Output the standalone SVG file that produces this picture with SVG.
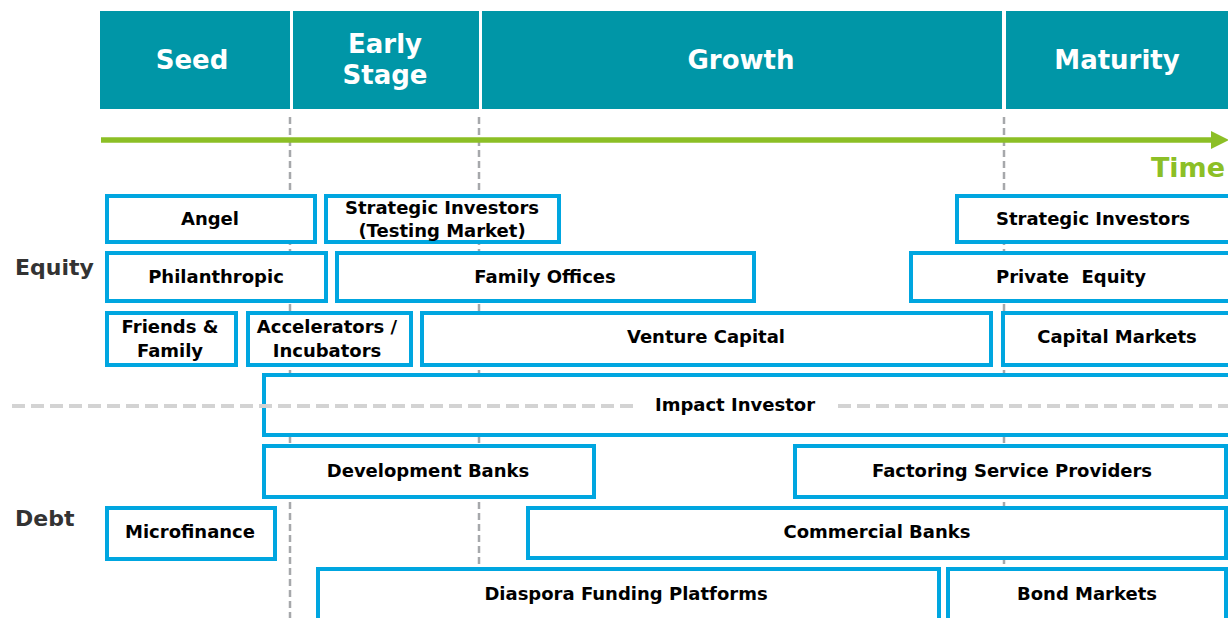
<svg xmlns="http://www.w3.org/2000/svg" width="1228" height="618" viewBox="0 0 1228 618">
<style>
text{font-family:"DejaVu Sans",Verdana,sans-serif;font-weight:bold;text-anchor:middle}
.hdr{fill:#0096a7}
.ht{fill:#ffffff;font-size:26px}
.box{fill:#ffffff;stroke:#00a6e0;stroke-width:4}
.bt{fill:#000000;font-size:18px}
.side{fill:#333333;font-size:22px;text-anchor:start}
.vguide{stroke:#a6a8ab;stroke-width:2.5;stroke-dasharray:7 4;fill:none}
.hguide{stroke:#d3d3d3;stroke-width:4;stroke-dasharray:13 6;fill:none}
</style>
<defs>
<marker id="arrowhead" markerWidth="18" markerHeight="18" refX="0" refY="9" orient="auto" markerUnits="userSpaceOnUse">
<path d="M0,0 L18,9 L0,18 Z" fill="#8cbf26"/>
</marker>
</defs>
<rect width="1228" height="618" fill="#ffffff"/>
<g id="stage-seed"><rect class="hdr" x="100" y="11" width="190" height="98"/><text class="ht" x="192" y="69">Seed</text></g>
<g id="stage-early"><rect class="hdr" x="293" y="11" width="186" height="98"/><text class="ht" x="385" y="53">Early</text><text class="ht" x="385" y="84">Stage</text></g>
<g id="stage-growth"><rect class="hdr" x="482" y="11" width="520" height="98"/><text class="ht" x="741" y="69">Growth</text></g>
<g id="stage-maturity"><rect class="hdr" x="1006" y="11" width="222" height="98"/><text class="ht" x="1117" y="69">Maturity</text></g>
<g id="guides">
<line class="vguide" x1="290" y1="117" x2="290" y2="618"/>
<line class="vguide" x1="479" y1="117" x2="479" y2="618"/>
<line class="vguide" x1="1004" y1="117" x2="1004" y2="618"/>
</g>
<g id="connectors">
<line x1="101" y1="140" x2="1211" y2="140" stroke="#8cbf26" stroke-width="5.5" marker-end="url(#arrowhead)"/>
</g>
<text id="time-label" x="1225" y="177" style="fill:#8cbf26;font-size:27px;text-anchor:end">Time</text>
<text class="side" x="15" y="275">Equity</text>
<text class="side" x="15" y="526">Debt</text>
<g id="angel"><rect class="box" x="107" y="196" width="208" height="46"/><text class="bt" x="210" y="225">Angel</text></g>
<g id="strategic-testing"><rect class="box" x="326" y="196" width="233" height="46"/><text class="bt" x="442" y="214">Strategic Investors</text><text class="bt" x="442" y="237">(Testing Market)</text></g>
<g id="strategic-investors"><rect class="box" x="957" y="196" width="300" height="46"/><text class="bt" x="1093" y="225">Strategic Investors</text></g>
<g id="philanthropic"><rect class="box" x="107" y="253" width="219" height="48"/><text class="bt" x="216" y="283">Philanthropic</text></g>
<g id="family-offices"><rect class="box" x="337" y="253" width="417" height="48"/><text class="bt" x="545" y="283">Family Offices</text></g>
<g id="private-equity"><rect class="box" x="911" y="253" width="340" height="48"/><text class="bt" x="1071" y="283" xml:space="preserve">Private  Equity</text></g>
<g id="friends-family"><rect class="box" x="107" y="313" width="129" height="52"/><text class="bt" x="170" y="333">Friends &amp;</text><text class="bt" x="170" y="357">Family</text></g>
<g id="accelerators"><rect class="box" x="248" y="313" width="163" height="52"/><text class="bt" x="327" y="333">Accelerators /</text><text class="bt" x="327" y="357">Incubators</text></g>
<g id="venture-capital"><rect class="box" x="422" y="313" width="569" height="52"/><text class="bt" x="706" y="343">Venture Capital</text></g>
<g id="capital-markets"><rect class="box" x="1003" y="313" width="240" height="52"/><text class="bt" x="1117" y="343">Capital Markets</text></g>
<g id="impact-investor"><rect class="box" x="264" y="375" width="1000" height="60"/><text class="bt" x="735" y="411">Impact Investor</text></g>
<g id="divider">
<line class="hguide" x1="12" y1="406" x2="633" y2="406"/>
<line class="hguide" x1="838" y1="406" x2="1228" y2="406"/>
</g>
<g id="development-banks"><rect class="box" x="264" y="446" width="330" height="51"/><text class="bt" x="428" y="477">Development Banks</text></g>
<g id="factoring"><rect class="box" x="795" y="446" width="431" height="51"/><text class="bt" x="1012" y="477">Factoring Service Providers</text></g>
<g id="microfinance"><rect class="box" x="107" y="508" width="168" height="51"/><text class="bt" x="190" y="538">Microfinance</text></g>
<g id="commercial-banks"><rect class="box" x="528" y="508" width="698" height="50"/><text class="bt" x="877" y="538">Commercial Banks</text></g>
<g id="diaspora"><rect class="box" x="318" y="569" width="621" height="70"/><text class="bt" x="626" y="600">Diaspora Funding Platforms</text></g>
<g id="bond-markets"><rect class="box" x="948" y="569" width="278" height="70"/><text class="bt" x="1087" y="600">Bond Markets</text></g>
</svg>
